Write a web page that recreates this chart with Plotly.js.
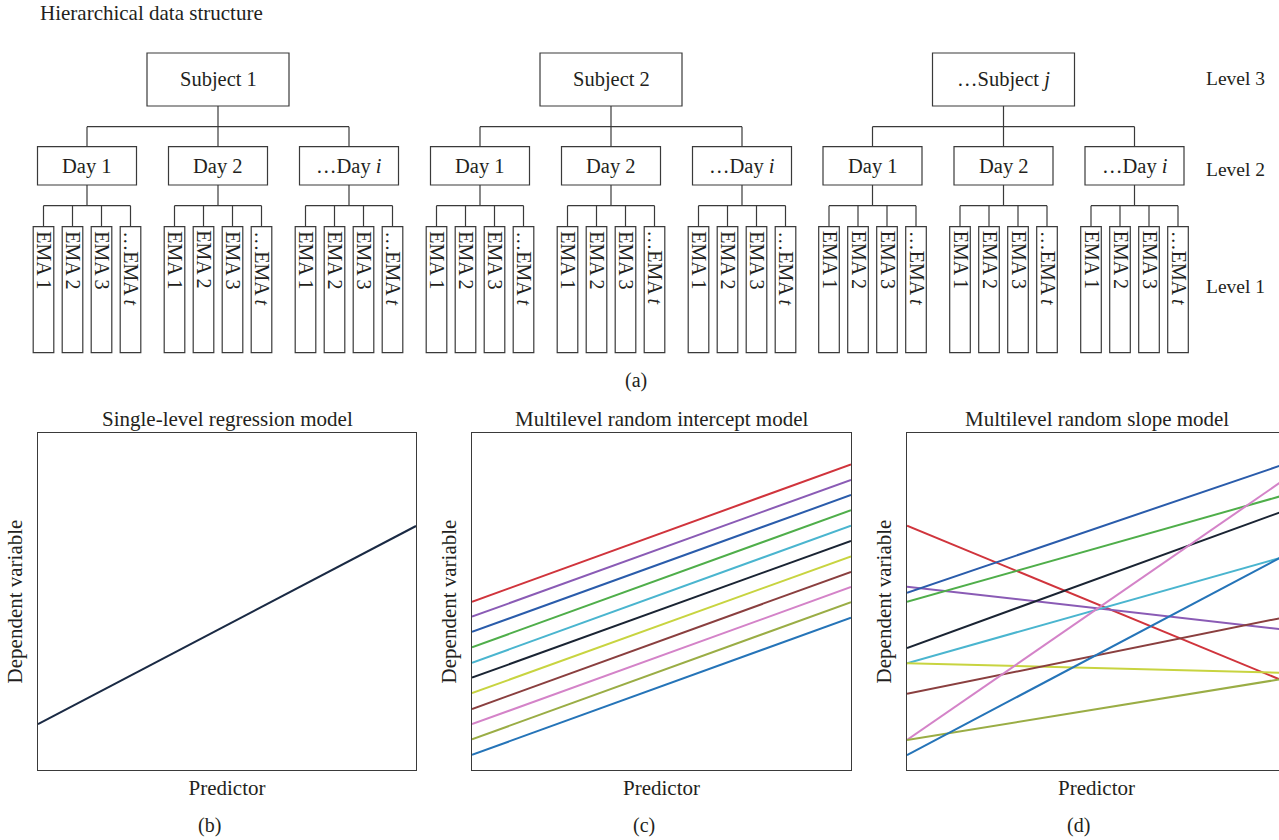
<!DOCTYPE html>
<html>
<head>
<meta charset="utf-8">
<script src="https://cdn.plot.ly/plotly-3.0.1.min.js"></script>
<style>
html,body{margin:0;padding:0;overflow:hidden;background:#fff;}
#chart{width:1290px;height:840px;}
</style>
</head>
<body>
<div id="chart"></div>
<script>
// ---------- data ----------
const subjects = ["Subject 1", "Subject 2", "…Subject <i>j</i>"];
const days = ["Day 1", "Day 2", "…Day <i>i</i>"];
const emas = ["EMA 1", "EMA 2", "EMA 3", "…EMA <i>t</i>"];
const levels = ["Level 3", "Level 2", "Level 1"];
const panelTitles = ["Single-level regression model", "Multilevel random intercept model", "Multilevel random slope model"];
const panelLabels = ["(b)", "(c)", "(d)"];

const predictor = [0, 1];
// (b) single line
const singleY = [1.36, 7.24];
// (c) random intercepts: [left, right]
const interceptStart = [4.99, 4.55, 4.10, 3.64, 3.18, 2.74, 2.28, 1.81, 1.36, 0.91, 0.45];
const interceptEnd   = [9.07, 8.61, 8.16, 7.71, 7.25, 6.80, 6.34, 5.88, 5.43, 4.98, 4.52];
// (d) random slopes: [left, right]
const slopeStart = [7.25, 5.44, 5.26, 4.99, 3.17, 3.62, 3.17, 2.26, 0.89, 0.89, 0.44];
const slopeEnd   = [2.61, 4.16, 9.09, 8.17, 6.34, 7.71, 2.88, 4.54, 8.65, 2.72, 6.39];

const lineColors = ["#d0343c", "#8a5bb5", "#2a5cab", "#4fae4a", "#4ab5cf", "#1a2433",
                    "#c8d440", "#8a3f3f", "#d483c8", "#9aad45", "#2574b8"];

// ---------- layout helpers ----------
const W = 1290, H = 840;
const px = x => x / W;
const py = y => 1 - y / H;
const FONT = "Liberation Serif, Times New Roman, serif";
const TXT = "#231f20";
const EDGE = "#3a3a3a";

const shapes = [];
const annotations = [];

function rect(x0, y0, x1, y1) {
  shapes.push({type: "rect", xref: "paper", yref: "paper",
    x0: px(x0), x1: px(x1), y0: py(y1), y1: py(y0),
    line: {color: EDGE, width: 1.2}, fillcolor: "rgba(0,0,0,0)"});
}
function seg(x0, y0, x1, y1) {
  shapes.push({type: "line", xref: "paper", yref: "paper",
    x0: px(x0), x1: px(x1), y0: py(y0), y1: py(y1),
    line: {color: EDGE, width: 1.2}});
}
function text(t, x, y, size, opts) {
  annotations.push(Object.assign({text: t, xref: "paper", yref: "paper",
    x: px(x), y: py(y), showarrow: false, xanchor: "center", yanchor: "middle",
    font: {family: FONT, size: size, color: TXT}}, opts || {}));
}

// ---------- hierarchy diagram (a) ----------
text("Hierarchical data structure", 38, 13, 21, {xanchor: "left"});
const subjCenters = [218, 611, 1003.5];
const dayOffsets = [-131, 0, 131];
const emaOffsets = [-43.5, -14.5, 14.5, 43.5];
const subjTop = 53, subjBot = 106, subjHalf = 71;
const dayTop = 146.7, dayBot = 185, dayHalf = 49.5;
const emaTop = 226.7, emaBot = 352.7, emaHalf = 10.3;
const bus1 = 126.7, bus2 = 205.7;

subjects.forEach((s, si) => {
  const cx = subjCenters[si];
  rect(cx - subjHalf, subjTop, cx + subjHalf, subjBot);
  text(s, cx, 79, 20.5);
  seg(cx, subjBot, cx, bus1);
  seg(cx + dayOffsets[0], bus1, cx + dayOffsets[dayOffsets.length - 1], bus1);
  days.forEach((d, di) => {
    const dx = cx + dayOffsets[di];
    seg(dx, bus1, dx, dayTop);
    rect(dx - dayHalf, dayTop, dx + dayHalf, dayBot);
    text(d, dx, 167, 20.5);
    seg(dx, dayBot, dx, bus2);
    seg(dx + emaOffsets[0], bus2, dx + emaOffsets[emaOffsets.length - 1], bus2);
    emas.forEach((e, ei) => {
      const ex = dx + emaOffsets[ei];
      seg(ex, bus2, ex, emaTop);
      rect(ex - emaHalf, emaTop, ex + emaHalf, emaBot);
      text(e, ex + 1, emaTop + 2, 20, {textangle: 90, yanchor: "top"});
    });
  });
});
const levelY = [78, 170, 286];
levels.forEach((l, i) => text(l, 1204, levelY[i], 19.5, {xanchor: "left"}));
text("(a)", 636, 381, 20);

// ---------- regression panels ----------
const domainsX = [[38 / W, 416 / W], [472 / W, 851 / W], [907 / W, 1286 / W]];
const domainY = [1 - 770 / H, 1 - 433 / H];
const centersX = [227, 661.5, 1096.5];

const traces = [];
traces.push({x: predictor, y: singleY, xaxis: "x", yaxis: "y", mode: "lines",
  line: {color: "#1a2a44", width: 2}, hoverinfo: "skip"});
interceptStart.forEach((v, i) => traces.push({x: predictor, y: [v, interceptEnd[i]],
  xaxis: "x2", yaxis: "y2", mode: "lines", line: {color: lineColors[i], width: 2}, hoverinfo: "skip"}));
slopeStart.forEach((v, i) => traces.push({x: predictor, y: [v, slopeEnd[i]],
  xaxis: "x3", yaxis: "y3", mode: "lines", line: {color: lineColors[i], width: 2}, hoverinfo: "skip"}));

function xax(i) {
  return {domain: domainsX[i], range: [0, 1], anchor: i === 0 ? "y" : "y" + (i + 1),
    showline: true, mirror: true, linecolor: EDGE, linewidth: 1.3,
    showgrid: false, zeroline: false, showticklabels: false, ticks: "",
    title: {text: "Predictor", standoff: 10, font: {family: FONT, size: 21, color: TXT}}};
}
function yax(i) {
  return {domain: domainY, range: [0, 10], anchor: i === 0 ? "x" : "x" + (i + 1),
    showline: true, mirror: true, linecolor: EDGE, linewidth: 1.3,
    showgrid: false, zeroline: false, showticklabels: false, ticks: "",
    title: {text: "Dependent variable", standoff: 8, font: {family: FONT, size: 21, color: TXT}}};
}

panelTitles.forEach((t, i) => text(t, centersX[i], 419, 21));
panelLabels.forEach((t, i) => text(t, centersX[i] - 18, 825, 20));

const layout = {
  width: W, height: H,
  margin: {l: 0, r: 0, t: 0, b: 0},
  paper_bgcolor: "#fff", plot_bgcolor: "#fff",
  showlegend: false,
  xaxis: xax(0), yaxis: yax(0),
  xaxis2: xax(1), yaxis2: yax(1),
  xaxis3: xax(2), yaxis3: yax(2),
  shapes: shapes, annotations: annotations,
  font: {family: FONT, color: TXT}
};

Plotly.newPlot("chart", traces, layout, {displayModeBar: false, staticPlot: true});
</script>
</body>
</html>
